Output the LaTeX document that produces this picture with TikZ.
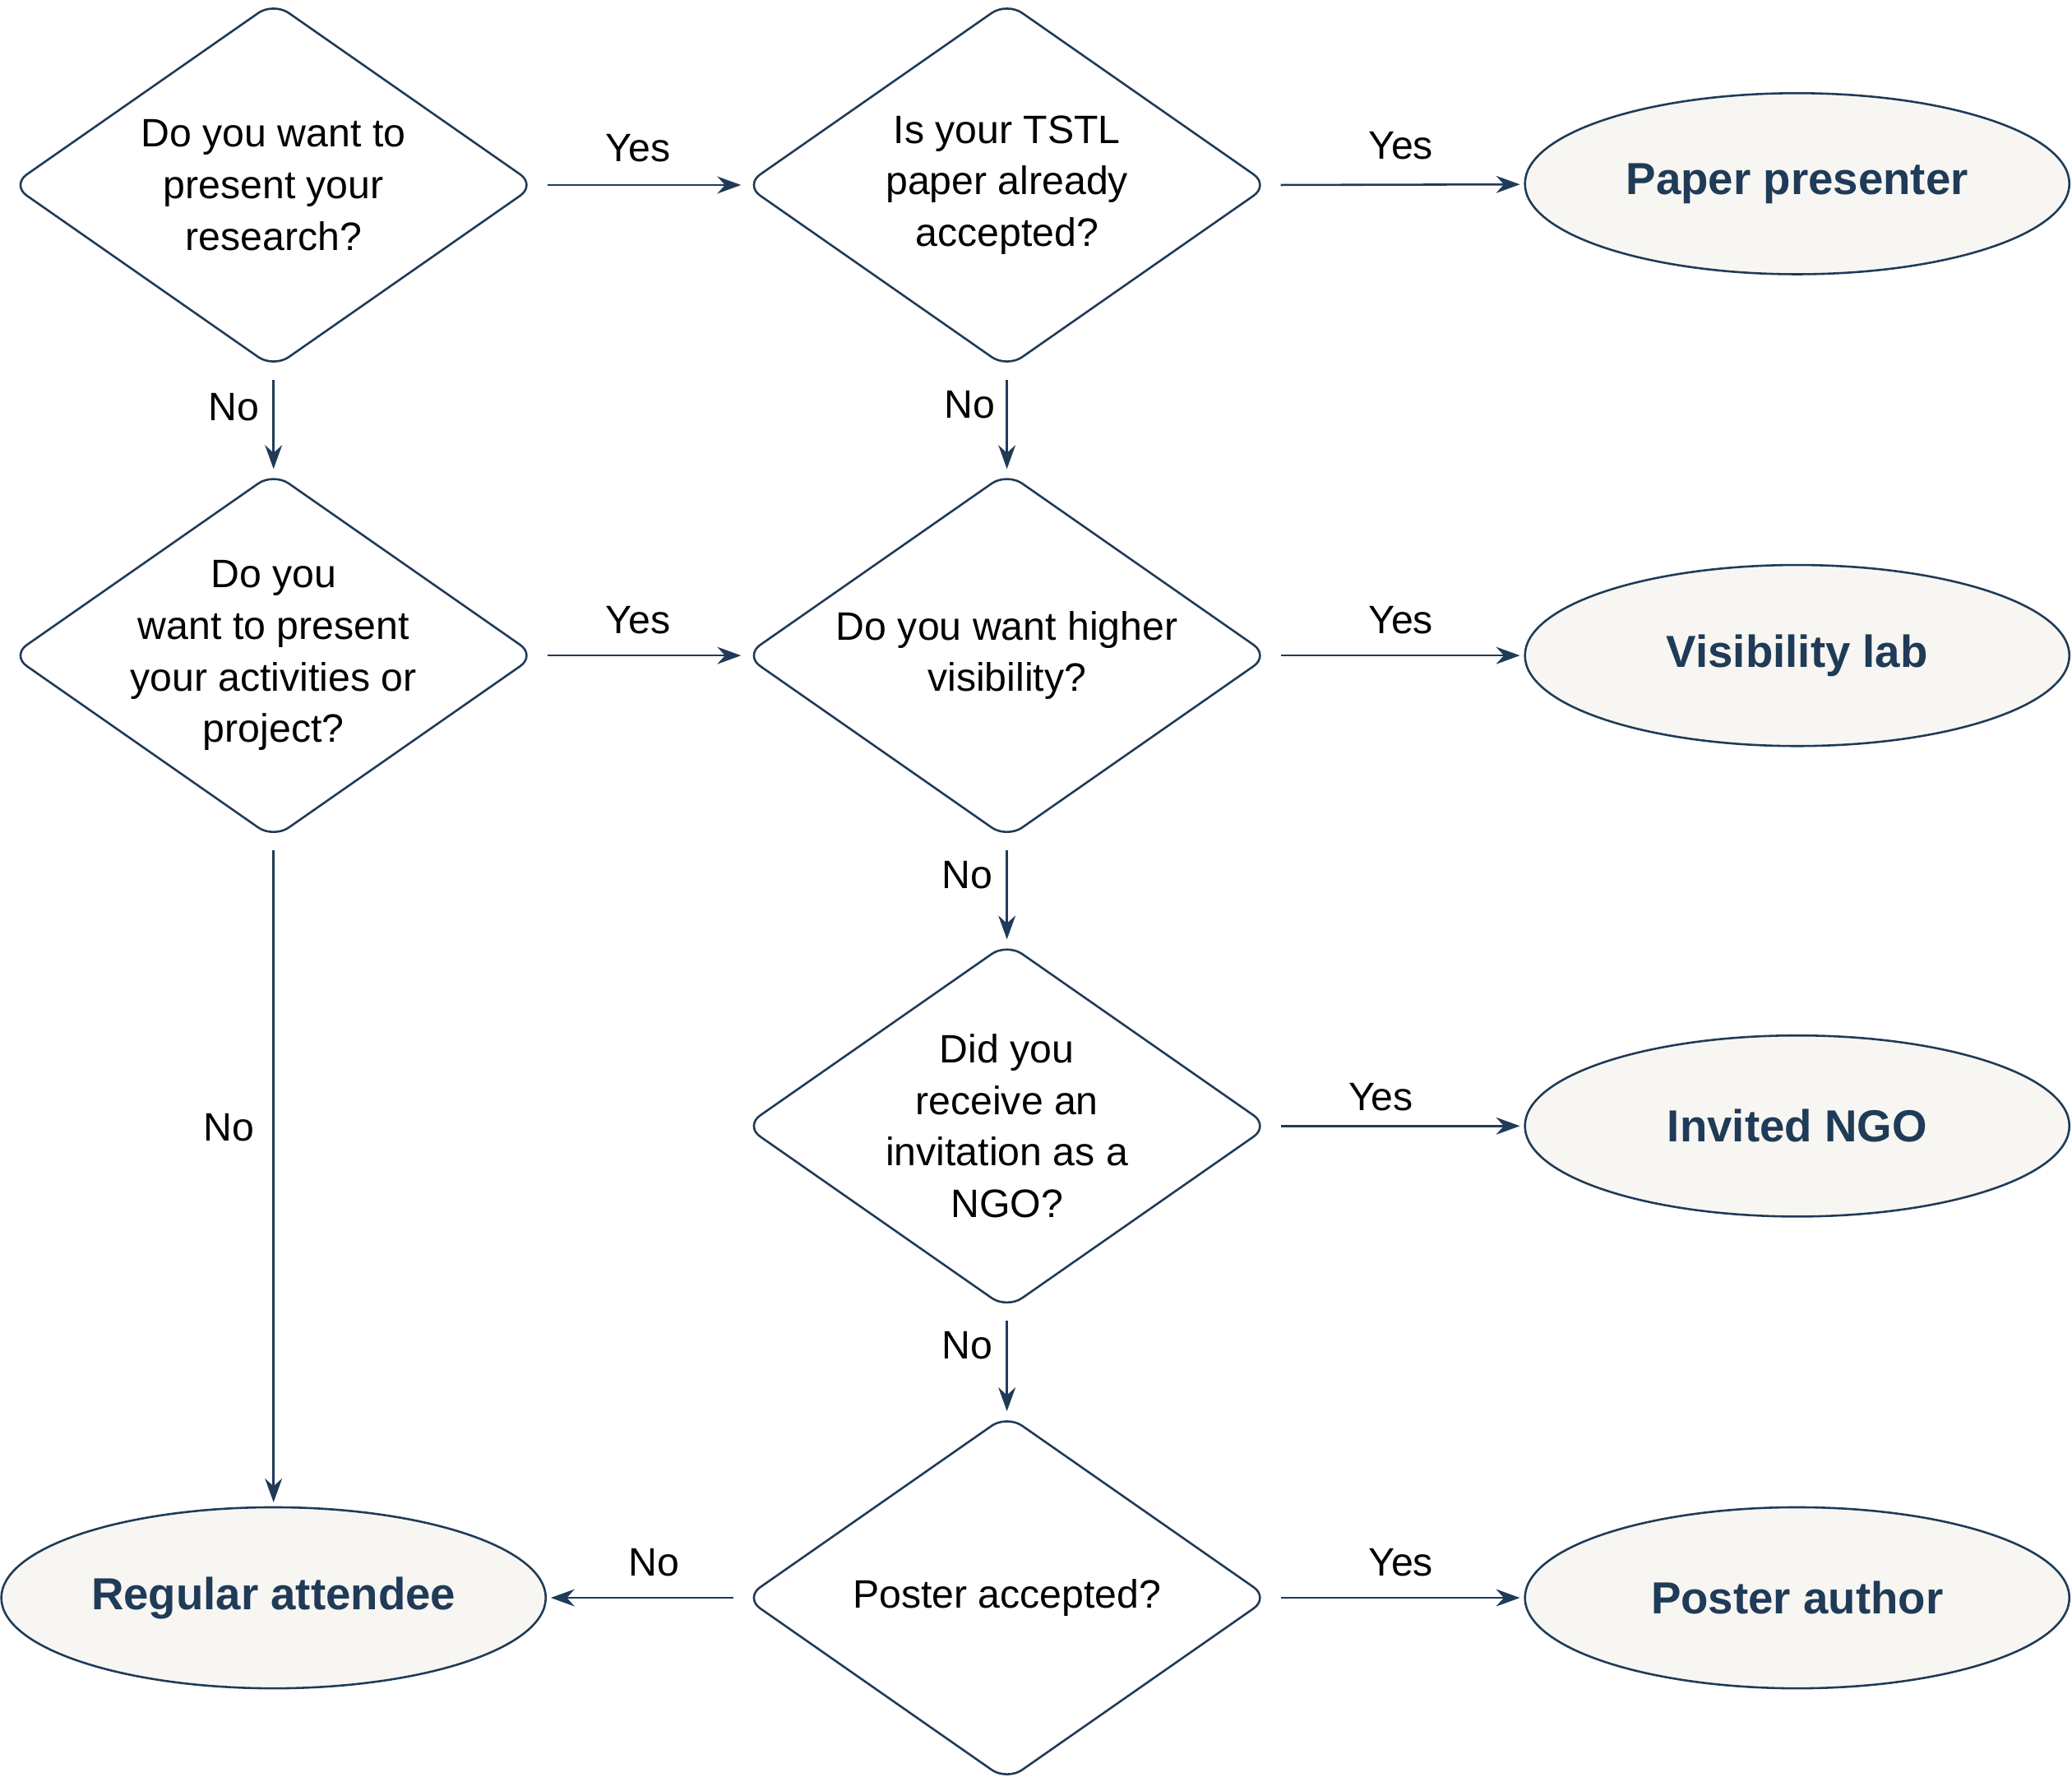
\documentclass[tikz,border=0pt]{standalone}
\usepackage{fontspec}
\setmainfont{Liberation Sans}
\usetikzlibrary{shapes.geometric,arrows.meta}
\definecolor{ln}{HTML}{1F3B57}
\definecolor{ef}{HTML}{F8F6F2}
\newcommand{\dshape}[1]{\draw[draw=ln,line width=1.6pt,rounded corners=14pt] (#1.north) -- (#1.east) -- (#1.south) -- (#1.west) -- cycle;}
\begin{document}
\begin{tikzpicture}[x=1pt,y=-1pt,
 dia/.style={rectangle,minimum width=396pt,minimum height=276pt,inner sep=0pt,align=center,font=\fontsize{30}{39}\selectfont},
 ell/.style={ellipse,draw=ln,line width=1.6pt,fill=ef,minimum width=412pt,minimum height=137pt,font=\fontsize{34}{40}\selectfont\bfseries,text=ln},
 arr/.style={draw=ln,line width=1.6pt,-{Stealth[length=18pt,width=13pt]},shorten <=9pt,shorten >=3pt},
 lab/.style={font=\fontsize{30}{36}\selectfont}]
\useasboundingbox (0,0) rectangle (1568,1355);
\node[dia] (d1) at (207,140) {Do you want to\\present your\\research?};
\node[dia] (d2) at (762,140) {Is your TSTL\\paper already\\accepted?};
\node[dia] (d3) at (207,496) {Do you\\want to present\\your activities or\\project?};
\node[dia] (d4) at (762,496) {Do you want higher\\visibility?};
\node[dia] (d5) at (762,852) {Did you\\receive an\\invitation as a\\NGO?};
\node[dia] (d6) at (762,1209) {Poster accepted?};
\dshape{d1}\dshape{d2}\dshape{d3}\dshape{d4}\dshape{d5}\dshape{d6}
\node[ell] (e1) at (1360,139) {\raisebox{-3pt}{Paper presenter}};
\node[ell] (e2) at (1360,496) {\raisebox{-3pt}{Visibility lab}};
\node[ell] (e3) at (1360,852) {\raisebox{-3pt}{Invited NGO}};
\node[ell] (e4) at (1360,1209) {\raisebox{-3pt}{Poster author}};
\node[ell] (e5) at (207,1209) {\raisebox{-3pt}{Regular attendee}};
\draw[arr] (d1.east) -- (d2.west);
\draw[arr] (d2.east) -- (e1);
\draw[arr] (d1.south) -- (d3.north);
\draw[arr] (d2.south) -- (d4.north);
\draw[arr] (d3.east) -- (d4.west);
\draw[arr] (d4.east) -- (e2);
\draw[arr] (d4.south) -- (d5.north);
\draw[arr] (d3.south) -- (e5);
\draw[arr] (d5.east) -- (e3);
\draw[arr] (d5.south) -- (d6.north);
\draw[arr] (d6.west) -- (e5);
\draw[arr] (d6.east) -- (e4);
\node[lab] (l1) at (483,112) {Yes};
\node[lab] (l2) at (1060,110) {Yes};
\node[lab] (l3) at (177,308) {No};
\node[lab] (l4) at (734,306) {No};
\node[lab] (l5) at (483,469) {Yes};
\node[lab] (l6) at (1060,469) {Yes};
\node[lab] (l7) at (732,662) {No};
\node[lab] (l8) at (173,853) {No};
\node[lab] (l9) at (1045,830) {Yes};
\node[lab] (l10) at (732,1018) {No};
\node[lab] (l11) at (495,1182) {No};
\node[lab] (l12) at (1060,1182) {Yes};
\end{tikzpicture}
\end{document}
